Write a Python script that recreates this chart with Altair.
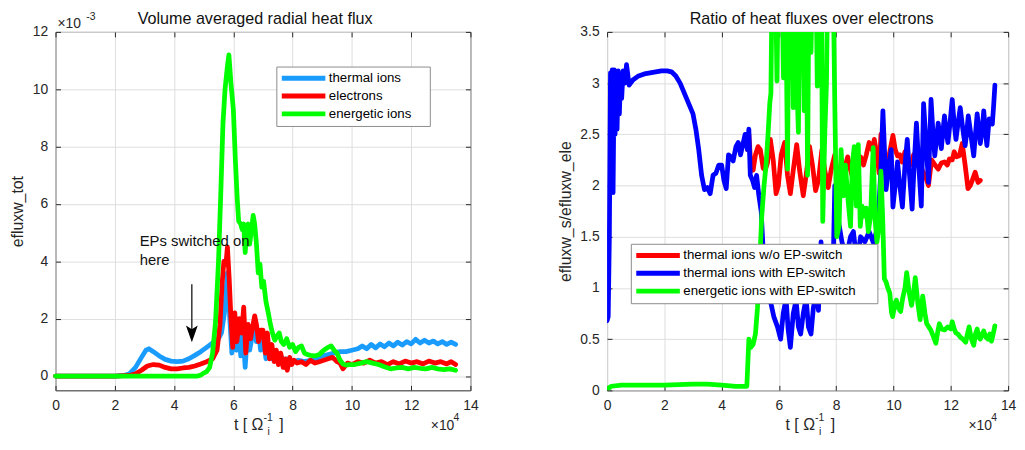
import altair as alt
import pandas as pd

FONT = "Liberation Sans"
AX = "#262626"
GRID = "#dedede"

# ---------------- data ----------------
x_ticks = [0, 2, 4, 6, 8, 10, 12, 14]
left_y_ticks = [0, 2, 4, 6, 8, 10, 12]
right_y_ticks = [0, 0.5, 1, 1.5, 2, 2.5, 3, 3.5]

left_names = ["thermal ions", "electrons", "energetic ions"]
left_colors = ["#1a9cff", "#ff0000", "#00ff00"]
right_names = ["thermal ions w/o EP-switch", "thermal ions with EP-switch",
               "energetic ions with EP-switch"]
right_colors = ["#ff0000", "#0000ff", "#00ff00"]

# left panel: t [1e4 / Omega_i], efluxw_tot [1e-3]
thermal = [(0, 0), (1, 0), (2, 0), (2.3, 0.02), (2.5, 0.08), (2.7, 0.3), (2.9, 0.65),
           (3.05, 0.9), (3.15, 0.95), (3.3, 0.85), (3.5, 0.7), (3.7, 0.58), (3.9, 0.52),
           (4.1, 0.5), (4.3, 0.52), (4.5, 0.6), (4.7, 0.72), (4.9, 0.85), (5.1, 1.0),
           (5.3, 1.15), (5.5, 1.3), (5.6, 1.5), (5.7, 2.2), (5.8, 3.6), (5.88, 2.0),
           (5.95, 0.8), (6.02, 1.6), (6.1, 0.9), (6.17, 1.7), (6.25, 0.7), (6.32, 1.5),
           (6.4, 0.3), (6.48, 1.6), (6.55, 0.9), (6.62, 1.3), (6.7, 1.9), (6.78, 1.2),
           (6.85, 1.6), (6.92, 0.9), (7.0, 1.4), (7.1, 0.6), (7.2, 0.9), (7.3, 0.6),
           (7.4, 0.8), (7.5, 0.55), (7.6, 0.7), (7.7, 0.55), (7.8, 0.6), (8.0, 0.5),
           (8.2, 0.55), (8.4, 0.5), (8.6, 0.55), (8.8, 0.6), (9.0, 0.7), (9.2, 0.75),
           (9.4, 0.8), (9.6, 0.85), (9.8, 0.85), (10.0, 0.9), (10.2, 0.95), (10.35, 1.05),
           (10.5, 0.95), (10.65, 1.1), (10.8, 0.98), (10.95, 1.12), (11.1, 1.02),
           (11.25, 1.15), (11.4, 1.05), (11.55, 1.18), (11.7, 1.08), (11.85, 1.2),
           (12.0, 1.12), (12.15, 1.28), (12.3, 1.15), (12.45, 1.25), (12.6, 1.15),
           (12.75, 1.22), (12.9, 1.12), (13.05, 1.2), (13.2, 1.1), (13.35, 1.18), (13.5, 1.1)]

electrons = [(0, 0), (1, 0), (2, 0), (2.5, 0.02), (2.7, 0.08), (2.9, 0.2), (3.1, 0.35),
             (3.3, 0.4), (3.5, 0.38), (3.7, 0.3), (3.9, 0.25), (4.1, 0.25), (4.3, 0.28),
             (4.5, 0.3), (4.7, 0.35), (4.9, 0.42), (5.1, 0.5), (5.3, 0.6), (5.45, 0.9),
             (5.55, 1.8), (5.62, 3.2), (5.68, 4.0), (5.75, 3.9), (5.8, 4.5), (5.86, 3.4),
             (5.92, 2.0), (5.98, 1.0), (6.05, 2.2), (6.12, 1.2), (6.2, 2.0), (6.28, 1.5),
             (6.35, 2.4), (6.42, 0.8), (6.5, 1.8), (6.58, 1.3), (6.65, 1.7), (6.72, 2.1),
             (6.78, 1.8), (6.85, 1.2), (6.92, 1.6), (7.0, 1.6), (7.08, 0.8), (7.15, 1.5),
             (7.22, 0.6), (7.3, 1.1), (7.38, 0.5), (7.45, 0.9), (7.52, 0.4), (7.6, 0.8),
             (7.68, 0.3), (7.75, 0.6), (7.82, 0.2), (7.9, 0.65), (7.97, 0.4), (8.05, 0.55),
             (8.15, 0.45), (8.3, 0.5), (8.45, 0.4), (8.6, 0.55), (8.75, 0.45), (8.9, 0.5),
             (9.05, 0.55), (9.2, 0.6), (9.35, 0.65), (9.5, 0.5), (9.6, 0.45), (9.7, 0.25),
             (9.85, 0.45), (10.0, 0.4), (10.2, 0.5), (10.4, 0.45), (10.6, 0.55), (10.8, 0.45),
             (11.0, 0.5), (11.2, 0.4), (11.4, 0.5), (11.6, 0.42), (11.8, 0.52), (12.0, 0.45),
             (12.2, 0.5), (12.4, 0.42), (12.6, 0.52), (12.8, 0.45), (13.0, 0.5), (13.2, 0.42),
             (13.35, 0.5), (13.5, 0.4)]

energetic = [(0, 0), (2, 0), (4, 0), (4.8, 0), (4.9, 0.03), (5.0, 0.1), (5.1, 0.15),
             (5.2, 0.3), (5.3, 0.8), (5.4, 1.9), (5.5, 4.0), (5.58, 6.5), (5.65, 8.8),
             (5.72, 10.0), (5.8, 10.8), (5.85, 11.2), (5.92, 10.2), (6.0, 9.3), (6.07, 7.5),
             (6.13, 6.2), (6.18, 5.4), (6.25, 5.3), (6.3, 5.1), (6.35, 5.3), (6.4, 4.3),
             (6.45, 5.1), (6.5, 5.3), (6.55, 4.6), (6.6, 5.0), (6.67, 5.6), (6.72, 5.3),
             (6.78, 4.6), (6.84, 3.6), (6.9, 3.9), (6.96, 3.1), (7.02, 3.3), (7.1, 2.6),
             (7.18, 2.2), (7.25, 1.8), (7.32, 1.5), (7.4, 1.25), (7.48, 1.4), (7.55, 1.5),
             (7.62, 1.2), (7.7, 1.1), (7.8, 1.3), (7.9, 1.0), (8.0, 1.1), (8.1, 0.85),
             (8.2, 1.0), (8.3, 1.05), (8.4, 0.8), (8.5, 0.75), (8.6, 0.72), (8.75, 0.7),
             (8.9, 0.75), (9.05, 0.9), (9.2, 1.0), (9.3, 1.05), (9.4, 0.9), (9.5, 0.8),
             (9.6, 0.55), (9.7, 0.42), (9.8, 0.38), (9.9, 0.4), (10.1, 0.4), (10.3, 0.45),
             (10.5, 0.5), (10.7, 0.45), (10.9, 0.4), (11.1, 0.32), (11.3, 0.25), (11.5, 0.28),
             (11.7, 0.3), (11.9, 0.25), (12.1, 0.3), (12.3, 0.27), (12.5, 0.25), (12.7, 0.3),
             (12.9, 0.25), (13.1, 0.22), (13.3, 0.25), (13.5, 0.2)]

# right panel: ratio of heat fluxes over electrons
ratio_no_switch = [(4.9, 2.35), (4.95, 2.5), (5.02, 2.2), (5.1, 2.15), (5.18, 2.3),
                   (5.27, 2.38), (5.35, 2.35), (5.45, 2.17), (5.52, 2.15), (5.6, 2.22),
                   (5.7, 2.45), (5.8, 2.25), (5.9, 1.92), (5.98, 2.0), (6.08, 2.3),
                   (6.2, 2.42), (6.3, 2.1), (6.4, 1.92), (6.5, 2.15), (6.62, 2.4),
                   (6.72, 2.15), (6.85, 1.9), (6.95, 2.1), (7.07, 2.38), (7.17, 2.2),
                   (7.28, 1.95), (7.38, 2.05), (7.5, 2.35), (7.6, 2.15), (7.72, 1.98),
                   (7.82, 2.15), (7.95, 2.3), (8.05, 2.1), (8.15, 2.0), (8.28, 2.15),
                   (8.4, 2.28), (8.5, 2.15), (8.6, 2.05), (8.72, 2.2), (8.85, 2.28),
                   (8.95, 2.2), (9.05, 2.3), (9.15, 2.42), (9.25, 2.35), (9.33, 2.45),
                   (9.42, 2.3), (9.5, 2.12), (9.56, 2.5), (9.65, 2.3), (9.74, 2.16),
                   (9.85, 2.3), (9.98, 2.49), (10.06, 2.35), (10.14, 2.29), (10.22, 2.3),
                   (10.3, 2.23), (10.4, 2.33), (10.5, 2.25), (10.6, 2.2), (10.7, 2.3),
                   (10.8, 2.2), (10.9, 2.25), (11.0, 2.15), (11.1, 2.1), (11.22, 2.0),
                   (11.33, 2.25), (11.45, 2.2), (11.56, 2.16), (11.67, 2.22), (11.78, 2.23),
                   (11.88, 2.2), (11.95, 2.26), (12.05, 2.25), (12.12, 2.33), (12.2, 2.28),
                   (12.3, 2.29), (12.4, 2.41), (12.5, 2.2), (12.6, 1.97), (12.68, 2.0),
                   (12.75, 2.05), (12.85, 2.13), (12.95, 2.03), (13.03, 2.05)]

ratio_thermal = [(0, 0.68), (0.04, 0.72), (0.08, 1.5), (0.12, 3.1), (0.15, 2.2), (0.18, 3.13),
                 (0.21, 1.93), (0.25, 3.13), (0.28, 2.5), (0.32, 3.1), (0.35, 2.55), (0.39, 3.12),
                 (0.43, 2.7), (0.47, 3.05), (0.51, 2.85), (0.56, 3.12), (0.62, 3.0), (0.68, 3.18),
                 (0.77, 2.98), (0.9, 3.03), (1.1, 3.07), (1.3, 3.09), (1.5, 3.1), (1.7, 3.11),
                 (1.9, 3.12), (2.1, 3.12), (2.25, 3.11), (2.4, 3.07), (2.55, 3.0), (2.7, 2.9),
                 (2.85, 2.8), (3.0, 2.7), (3.1, 2.55), (3.2, 2.35), (3.3, 2.1), (3.4, 1.96),
                 (3.5, 1.98), (3.6, 1.92), (3.7, 2.1), (3.8, 2.12), (3.9, 2.2), (4.0, 2.2),
                 (4.08, 2.05), (4.16, 1.97), (4.24, 2.3), (4.32, 2.28), (4.4, 2.24), (4.5, 2.38),
                 (4.58, 2.42), (4.66, 2.3), (4.74, 2.4), (4.82, 2.5), (4.9, 2.35), (4.95, 2.55),
                 (5.0, 2.1), (5.08, 2.05), (5.15, 1.98), (5.22, 2.1), (5.3, 1.9), (5.38, 1.75),
                 (5.48, 1.2), (5.6, 0.88), (5.72, 0.85), (5.82, 0.72), (5.95, 0.62), (6.06, 0.5),
                 (6.15, 0.75), (6.25, 0.9), (6.32, 0.6), (6.4, 0.42), (6.5, 0.75), (6.6, 0.88),
                 (6.68, 0.62), (6.76, 0.55), (6.85, 0.75), (6.95, 0.9), (7.03, 0.62), (7.12, 0.55),
                 (7.2, 0.8), (7.3, 0.97), (7.38, 0.78), (7.47, 1.45), (7.55, 0.95), (7.65, 0.88),
                 (7.75, 1.15), (7.87, 0.9), (7.95, 2.0), (8.05, 1.7), (8.2, 1.45), (8.35, 1.3),
                 (8.5, 1.5), (8.6, 1.55), (8.72, 1.25), (8.85, 1.5), (9.0, 1.45), (9.15, 1.55),
                 (9.3, 1.44), (9.45, 1.6), (9.55, 2.1), (9.63, 2.73), (9.74, 1.96), (9.84, 2.2),
                 (9.92, 2.35), (9.98, 1.79), (10.06, 2.0), (10.14, 2.23), (10.22, 2.0),
                 (10.31, 1.79), (10.4, 2.2), (10.48, 2.45), (10.56, 2.1), (10.65, 1.77),
                 (10.72, 2.2), (10.8, 2.61), (10.88, 2.2), (10.97, 1.8), (11.05, 2.8),
                 (11.14, 2.4), (11.22, 2.03), (11.31, 2.84), (11.38, 2.5), (11.44, 2.29),
                 (11.5, 2.45), (11.56, 2.61), (11.62, 2.45), (11.67, 2.36), (11.73, 2.55),
                 (11.78, 2.68), (11.85, 2.5), (11.9, 2.42), (11.97, 2.6), (12.05, 2.84),
                 (12.12, 2.6), (12.18, 2.45), (12.25, 2.6), (12.33, 2.76), (12.42, 2.55),
                 (12.5, 2.39), (12.55, 2.5), (12.61, 2.68), (12.7, 2.5), (12.8, 2.29),
                 (12.86, 2.5), (12.92, 2.7), (12.98, 2.55), (13.03, 2.41), (13.1, 2.55),
                 (13.15, 2.73), (13.2, 2.55), (13.26, 2.39), (13.34, 2.65), (13.4, 2.62),
                 (13.45, 2.6), (13.5, 2.8), (13.54, 2.98)]

ratio_energetic = [(0, 0.0), (0.05, 0.02), (0.15, 0.04), (0.5, 0.05), (1.0, 0.05), (2.0, 0.05),
                   (3.0, 0.06), (3.5, 0.06), (4.0, 0.05), (4.5, 0.04), (4.88, 0.04), (4.92, 0.3),
                   (4.95, 0.5), (5.02, 0.42), (5.1, 0.45), (5.18, 0.55), (5.25, 0.8), (5.32, 1.2),
                   (5.4, 1.7), (5.48, 2.0), (5.55, 2.2), (5.62, 2.5), (5.68, 2.8), (5.72, 2.9),
                   (5.78, 4.5), (5.86, 4.5), (5.93, 3.02), (6.0, 4.5), (6.08, 4.5), (6.16, 3.05),
                   (6.22, 4.5), (6.3, 2.16), (6.36, 4.5), (6.44, 4.5), (6.5, 2.76), (6.56, 4.5),
                   (6.62, 3.05), (6.68, 2.52), (6.75, 4.5), (6.82, 4.5), (6.88, 2.73), (6.94, 4.5),
                   (7.0, 2.1), (7.06, 4.5), (7.12, 3.3), (7.2, 4.5), (7.27, 4.5), (7.34, 2.97),
                   (7.42, 4.5), (7.47, 4.5), (7.53, 1.65), (7.6, 2.5), (7.66, 3.0), (7.72, 4.5),
                   (7.8, 4.5), (7.87, 4.5), (7.95, 2.8), (8.02, 1.5), (8.1, 1.6), (8.17, 2.35),
                   (8.25, 1.9), (8.32, 2.2), (8.4, 1.9), (8.5, 1.6), (8.56, 2.2), (8.63, 2.38),
                   (8.7, 1.8), (8.77, 2.4), (8.84, 1.6), (8.9, 1.8), (8.97, 1.7), (9.05, 1.78),
                   (9.12, 1.55), (9.2, 1.7), (9.29, 2.37), (9.35, 1.7), (9.42, 1.45), (9.5, 1.6),
                   (9.56, 2.14), (9.62, 1.7), (9.68, 1.09), (9.74, 1.06), (9.8, 1.0), (9.87, 0.95),
                   (9.93, 0.76), (9.97, 0.72), (10.05, 0.85), (10.1, 0.88), (10.18, 0.8),
                   (10.25, 0.77), (10.32, 0.9), (10.4, 1.0), (10.46, 1.15), (10.55, 0.95),
                   (10.63, 0.83), (10.7, 0.95), (10.76, 1.1), (10.85, 0.85), (10.93, 0.69),
                   (11.02, 0.92), (11.1, 0.75), (11.16, 0.65), (11.23, 0.62), (11.3, 0.59),
                   (11.4, 0.52), (11.48, 0.46), (11.55, 0.58), (11.6, 0.65), (11.68, 0.6),
                   (11.78, 0.59), (11.9, 0.62), (12.0, 0.6), (12.05, 0.67), (12.12, 0.6),
                   (12.18, 0.56), (12.25, 0.55), (12.33, 0.52), (12.42, 0.5), (12.52, 0.47),
                   (12.58, 0.55), (12.64, 0.62), (12.72, 0.5), (12.8, 0.44), (12.86, 0.55),
                   (12.92, 0.6), (12.98, 0.52), (13.03, 0.5), (13.1, 0.55), (13.15, 0.58),
                   (13.22, 0.52), (13.3, 0.5), (13.36, 0.55), (13.42, 0.48), (13.48, 0.55),
                   (13.54, 0.63)]

# annotation on the left panel (data coordinates)
note_text = "EPs switched on\nhere"
note_t = [2.84]
note_v = [4.54]
arrow_t = [4.6]
arrow_from = [3.2]
arrow_to = [1.6]
arrow_head_v = [1.47]

# ---------------- layout ----------------
W_L, W_R, H = 419, 405, 362
PAD = {"left": 1, "top": 0, "right": 0, "bottom": 0}


def frame(names, series):
    rows = []
    for name, pts in zip(names, series):
        for t, v in pts:
            rows.append({"t": t, "v": v, "series": name})
    return pd.DataFrame(rows)


def txt(s, x, y, size, align="left", color=AX):
    return alt.Chart(pd.DataFrame({"s": [s]})).mark_text(
        align=align, baseline="alphabetic", fontSize=size, font=FONT, color=color
    ).encode(x=alt.value(x), y=alt.value(y), text="s:N")


def panel(df, names, colors, width, ydom, yticks, ytitle, ext, tpad,
          legx, legy, nsp, clip, title, title_dx, extra):
    xs = alt.Scale(domain=[0, 14], nice=False, zero=False)
    ys = alt.Scale(domain=ydom, nice=False, zero=False)
    lines = alt.Chart(df).mark_line(
        strokeWidth=4.8, clip=clip, strokeJoin="round", strokeCap="round"
    ).encode(
        x=alt.X("t:Q", scale=xs, axis=alt.Axis(
            orient="bottom", values=x_ticks, grid=True, gridColor=GRID, ticks=False,
            tickSize=0, domain=False, labelPadding=8, labelFontSize=14, labelFont=FONT,
            labelColor=AX, labelFlush=False, labelOverlap=False, title=None)),
        y=alt.Y("v:Q", scale=ys, axis=alt.Axis(
            orient="left", values=yticks, format="~g", grid=True, gridColor=GRID,
            ticks=False, tickSize=0, domain=False, labelPadding=8, labelFontSize=14,
            labelFont=FONT, labelColor=AX, labelFlush=False, labelOverlap=False,
            minExtent=ext, maxExtent=ext, title=ytitle, titlePadding=tpad,
            titleFontSize=16, titleFont=FONT, titleFontWeight="normal", titleColor=AX)),
        color=alt.Color("series:N", scale=alt.Scale(domain=names, range=colors),
                        legend=alt.Legend(
                            orient="none", legendX=legx, legendY=legy, title=None,
                            symbolType="stroke", symbolSize=1936, symbolStrokeWidth=5,
                            labelFontSize=13.4, labelFont=FONT, labelColor="#000",
                            labelFontWeight="normal",
                            padding=3, strokeColor="#8c8c8c", fillColor="white",
                            clipHeight=17.6, rowPadding=0, labelOffset=1, labelLimit=400,
                            labelExpr="datum.label + '" + "\u00a0" * nsp + "\u200b'")),
    )

    # inward tick marks on all four sides; every tick axis points into the plot
    def tick_axis(ticks, o, off):
        return alt.Axis(orient=o, values=ticks, offset=off, tickSize=5, ticks=True,
                        tickColor=AX, tickWidth=1, labels=False, domain=False,
                        grid=False, title=None, minExtent=0, maxExtent=0)

    def tick_layer(xaxis, yaxis):
        return alt.Chart(df).mark_point(opacity=0, size=1, clip=True).encode(
            x=alt.X("t:Q", scale=xs, axis=xaxis),
            y=alt.Y("v:Q", scale=ys, axis=yaxis),
        )

    ticks_a = tick_layer(tick_axis(x_ticks, "bottom", -5), tick_axis(yticks, "left", -5))
    ticks_b = tick_layer(tick_axis(x_ticks, "bottom", -H), tick_axis(yticks, "left", -width))

    xt = H + 40
    texts = [
        txt(title, width / 2 + title_dx, -8, 16.3, align="center", color="#111"),
        txt("t [ \u03a9", 210, xt, 16, align="right"),
        txt("-1", 210, xt - 9, 10.5),
        txt("i", 214, xt + 5, 10.5),
        txt("]", 226, xt, 16),
        txt("\u00d710", width - 40, xt, 14),
        txt("4", width - 17, xt - 9, 10.5),
    ]
    return alt.layer(lines, ticks_a, ticks_b, *extra, *texts).resolve_axis(
        x="independent", y="independent").properties(width=width, height=H)


# left panel annotation layers
xs_l = alt.Scale(domain=[0, 14], nice=False, zero=False)
ys_l = alt.Scale(domain=[-0.5, 12], nice=False, zero=False)
ann = pd.DataFrame({"t": arrow_t, "v": arrow_from, "v2": arrow_to,
                    "vh": arrow_head_v})
note_df = pd.DataFrame({"t": note_t, "v": note_v, "s": [note_text]})
arrow_rule = alt.Chart(ann).mark_rule(color="black", strokeWidth=1.2).encode(
    x=alt.X("t:Q", scale=xs_l, axis=None),
    y=alt.Y("v:Q", scale=ys_l, axis=None), y2="v2:Q")
arrow_head = alt.Chart(ann).mark_point(
    shape="M0,1L-0.7,-1L0,-0.55L0.7,-1Z", filled=True, size=289, color="black",
    opacity=1).encode(
    x=alt.X("t:Q", scale=xs_l, axis=None), y=alt.Y("vh:Q", scale=ys_l, axis=None))
note = alt.Chart(note_df).mark_text(
    align="left", baseline="alphabetic", fontSize=15, font=FONT, color="#111",
    lineBreak="\n", lineHeight=19).encode(
    x=alt.X("t:Q", scale=xs_l, axis=None), y=alt.Y("v:Q", scale=ys_l, axis=None),
    text="s:N")
exp_top = [txt("\u00d710", 2, -4, 14), txt("-3", 31, -12, 10.5)]

left = panel(frame(left_names, [thermal, electrons, energetic]), left_names,
             left_colors, W_L, [-0.5, 12], left_y_ticks, "efluxw_tot", 24, 6,
             223, 35, 4, False, "Volume averaged radial heat flux", -8,
             [arrow_rule, arrow_head, note] + exp_top)
right = panel(frame(right_names, [ratio_no_switch, ratio_thermal, ratio_energetic]),
              right_names, right_colors, W_R, [0, 3.5], right_y_ticks,
              "efluxw_s/efluxw_ele", 29, 5, 24, 214, 5, True,
              "Ratio of heat fluxes over electrons", 4, [])

chart = alt.hconcat(left, right, spacing=78).resolve_scale(
    color="independent", x="independent", y="independent"
).resolve_legend(color="independent").properties(
    padding=PAD
).configure(
    padding=PAD, font=FONT
).configure_view(stroke=AX, strokeWidth=1)

chart.save("out.html", embed_options={"renderer": "svg", "actions": False})
